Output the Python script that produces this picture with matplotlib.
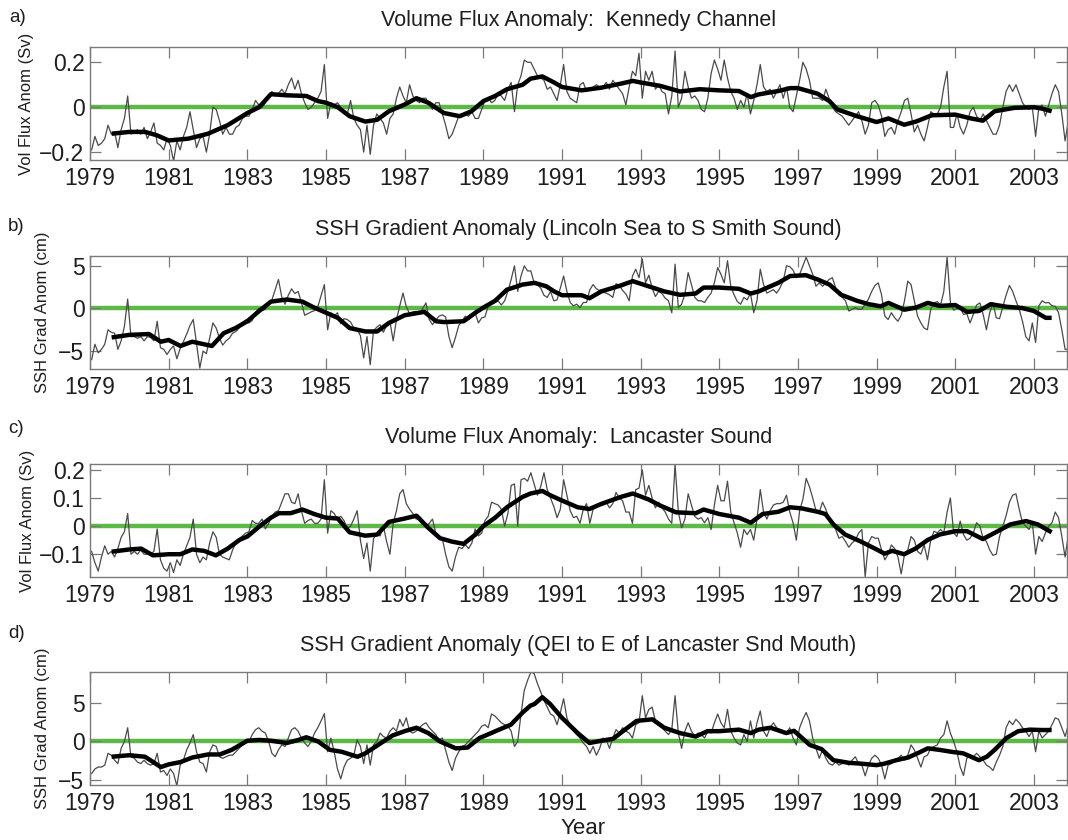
import numpy as np
import matplotlib
matplotlib.use('Agg')
import matplotlib.pyplot as plt

plt.rcParams['font.family'] = ['Liberation Sans', 'DejaVu Sans']

# ---- data (monthly anomalies, one row per year 1979..2003) ----
YEARS = list(range(1979, 2004))

kennedy_monthly = [
    [-0.19, -0.13, -0.17, -0.16, -0.14, -0.08, -0.12, -0.11, -0.18, -0.10, -0.05, 0.05],
    [-0.12, -0.11, -0.10, -0.12, -0.09, -0.14, -0.11, -0.07, -0.16, -0.17, -0.19, -0.14],
    [-0.17, -0.24, -0.15, -0.19, -0.13, -0.09, -0.02, -0.10, -0.18, -0.14, -0.13, -0.20],
    [-0.12, 0.00, -0.01, -0.06, -0.12, -0.09, -0.12, -0.12, -0.09, -0.08, -0.05, -0.04],
    [-0.04, -0.01, 0.03, 0.01, 0.00, 0.02, 0.05, 0.07, 0.05, 0.06, 0.08, 0.06],
    [0.10, 0.13, 0.08, 0.12, 0.06, 0.02, -0.01, 0.00, 0.02, 0.04, 0.07, 0.19],
    [-0.05, 0.02, 0.01, 0.02, 0.00, -0.02, -0.03, 0.03, -0.05, -0.08, -0.10, -0.20],
    [-0.08, -0.21, -0.08, -0.03, -0.05, -0.07, -0.12, -0.05, -0.03, 0.04, 0.09, 0.05],
    [0.02, 0.10, 0.05, 0.03, 0.02, 0.04, 0.04, 0.01, -0.01, 0.02, 0.02, -0.03],
    [-0.08, -0.14, -0.12, -0.08, -0.04, -0.03, -0.03, -0.04, -0.02, -0.05, -0.05, -0.01],
    [0.03, 0.04, 0.02, 0.03, 0.06, 0.05, 0.03, 0.08, 0.11, -0.02, 0.10, 0.14],
    [0.21, 0.20, 0.20, 0.17, 0.14, 0.13, 0.12, 0.08, 0.09, 0.06, 0.03, 0.10],
    [0.19, 0.07, 0.04, 0.03, 0.02, 0.10, 0.11, 0.07, 0.08, 0.09, 0.10, 0.09],
    [0.09, 0.11, 0.08, 0.12, 0.10, 0.08, 0.06, 0.01, 0.09, 0.16, 0.14, 0.24],
    [0.04, 0.16, 0.12, 0.16, 0.08, 0.10, 0.07, 0.06, -0.03, 0.05, 0.25, 0.00],
    [0.04, 0.16, 0.09, 0.04, 0.05, 0.03, -0.01, -0.02, 0.04, 0.15, 0.21, 0.17],
    [0.12, 0.21, 0.13, 0.07, 0.04, -0.01, 0.03, 0.00, 0.06, -0.03, 0.03, 0.10],
    [0.19, 0.09, 0.07, 0.08, 0.04, 0.07, 0.10, 0.04, 0.09, 0.00, -0.02, 0.05],
    [0.12, 0.20, 0.17, 0.12, 0.04, 0.04, 0.04, 0.03, 0.08, 0.04, 0.00, -0.02],
    [-0.03, -0.04, -0.06, -0.08, -0.06, -0.04, -0.02, -0.06, -0.12, -0.08, 0.02, 0.03],
    [0.01, -0.04, -0.13, -0.10, -0.09, -0.12, -0.06, -0.02, 0.03, 0.04, -0.03, -0.11],
    [-0.08, -0.12, -0.15, -0.09, -0.02, -0.03, -0.03, 0.00, 0.09, 0.16, -0.09, -0.09],
    [-0.03, -0.09, -0.12, -0.08, -0.02, 0.00, -0.04, -0.06, -0.03, -0.06, -0.09, -0.12],
    [-0.12, -0.08, 0.00, 0.07, 0.10, 0.07, 0.10, 0.06, 0.02, 0.00, -0.01, 0.00],
    [-0.13, 0.00, 0.01, -0.04, 0.01, 0.06, 0.10, 0.07, -0.03, -0.15, -0.06, -0.05],
]

lincoln_monthly = [
    [-6.0, -4.2, -5.2, -4.8, -4.2, -2.5, -2.8, -2.9, -4.8, -3.8, -2.1, 1.1],
    [-3.3, -3.3, -3.5, -3.3, -3.8, -3.3, -3.4, -3.8, -1.5, -4.6, -4.8, -5.4],
    [-4.8, -4.4, -5.9, -4.7, -3.9, -3.0, -2.0, -1.3, -4.1, -7.0, -5.0, -5.3],
    [-3.5, -1.7, -2.3, -3.5, -4.3, -3.8, -3.5, -2.9, -2.7, -2.3, -1.7, -1.35],
    [-1.7, -1.4, -0.5, 0.0, -0.25, -0.1, 0.45, 1.0, 2.2, 3.4, 1.35, 0.5],
    [1.55, 2.3, 1.75, 2.0, 0.7, -0.8, -0.6, -0.4, -0.25, 0.2, 1.5, 2.8],
    [-2.5, -0.5, -0.9, -0.5, -1.8, -1.2, -1.3, -1.6, -2.3, -2.4, -3.2, -5.8],
    [-3.3, -6.6, -2.6, -2.2, -1.9, -2.8, -2.0, -1.5, -3.8, -1.3, 0.3, 1.8],
    [0.2, -0.6, -0.4, -0.35, -0.6, 0.0, 0.65, -1.3, -1.9, -1.35, -0.9, -0.75],
    [-1.0, -3.3, -4.6, -3.4, -2.0, -1.5, -0.9, -1.3, -0.9, -0.5, -1.7, -1.1],
    [-1.0, 0.3, 0.65, 0.7, 0.9, 0.4, 0.9, 2.0, 3.4, 5.0, 2.0, 3.8],
    [5.0, 4.4, 4.4, 3.0, 2.8, 2.4, 1.55, 1.3, 2.0, 0.9, 1.0, 2.4],
    [3.8, 2.0, 0.7, 0.3, 0.5, 0.1, 0.7, 0.7, 2.2, 2.8, 2.3, 2.1],
    [1.9, 1.8, 1.6, 1.3, 2.9, 2.7, 2.1, 1.7, 0.9, 3.8, 4.6, 3.6],
    [5.8, 3.0, 3.9, 2.4, 1.4, 2.0, 1.75, 1.2, 0.9, -0.5, 5.2, 0.1],
    [0.5, 1.7, 4.2, 2.8, 1.3, 0.9, 0.9, 0.7, 1.3, 1.8, 3.0, 4.8],
    [4.0, 3.0, 5.6, 2.6, 1.6, 0.8, 0.5, 1.3, 1.0, 1.8, -0.5, 0.9],
    [4.6, 2.8, 1.8, 2.0, 2.2, 1.8, 2.4, 3.2, 5.0, 4.9, 4.5, 3.6],
    [4.0, 5.0, 6.0, 5.0, 4.0, 2.6, 3.0, 2.6, 3.0, 3.4, 3.6, 2.4],
    [1.6, 1.3, 0.9, -0.3, -0.1, 0.1, -0.1, -0.1, 0.5, 1.1, 2.0, 2.7],
    [3.0, 1.6, -0.9, -1.3, -0.5, -1.1, -1.5, -0.8, 0.9, 3.2, 2.8, 0.9],
    [-0.9, -1.7, -2.3, -2.5, -0.1, 0.65, 0.8, 0.4, 2.0, 6.0, 0.7, -0.2],
    [0.0, 0.1, -0.7, -0.6, -1.7, -0.7, 0.4, 0.65, -0.7, -2.5, -0.5, 0.65],
    [-1.1, -1.2, 0.2, 1.55, 2.7, 2.0, 0.9, -0.1, -1.5, -3.3, -3.8, -1.7],
    [-4.0, 0.3, 0.9, 0.65, 0.7, 0.3, 0.25, -0.5, -2.5, -4.8, -4.8, -2.0],
]

lancaster_monthly = [
    [-0.09, -0.13, -0.16, -0.11, -0.07, -0.10, -0.09, -0.11, -0.08, -0.04, -0.02, 0.045],
    [-0.10, -0.09, -0.10, -0.085, -0.10, -0.10, -0.10, -0.09, -0.01, -0.12, -0.15, -0.16],
    [-0.13, -0.165, -0.12, -0.14, -0.10, -0.07, -0.04, 0.025, -0.10, -0.13, -0.11, -0.12],
    [-0.06, -0.02, -0.04, -0.10, -0.11, -0.115, -0.12, -0.085, -0.06, -0.045, -0.035, -0.025],
    [-0.02, 0.02, 0.01, 0.01, 0.025, -0.01, 0.01, 0.035, 0.05, 0.055, 0.085, 0.115],
    [0.115, 0.085, 0.08, 0.115, 0.055, 0.01, 0.02, 0.025, 0.01, 0.01, 0.025, 0.165],
    [-0.025, 0.055, 0.045, 0.025, 0.035, 0.02, -0.01, 0.0, 0.025, 0.055, -0.05, -0.115],
    [-0.06, -0.16, -0.045, -0.025, -0.035, 0.0, -0.055, -0.10, 0.01, 0.055, 0.115, 0.13],
    [0.08, 0.06, 0.045, 0.025, 0.035, 0.02, 0.0, 0.01, 0.025, -0.025, -0.035, -0.045],
    [-0.10, -0.145, -0.16, -0.11, -0.075, -0.08, -0.065, -0.08, -0.06, -0.01, -0.035, -0.025],
    [0.02, 0.035, 0.085, 0.08, 0.075, 0.06, 0.0, 0.045, 0.145, 0.15, 0.0, 0.165],
    [0.17, 0.16, 0.19, 0.15, 0.11, 0.14, 0.19, 0.13, 0.10, 0.07, 0.03, 0.06],
    [0.165, 0.11, 0.055, 0.03, 0.035, 0.01, 0.06, 0.08, 0.01, 0.06, 0.075, 0.08],
    [0.075, 0.085, 0.065, 0.08, 0.12, 0.10, 0.09, 0.05, 0.05, 0.01, 0.13, 0.135],
    [0.20, 0.11, 0.145, 0.10, 0.065, 0.085, 0.065, 0.05, 0.025, 0.01, 0.22, 0.05],
    [-0.006, 0.025, 0.115, 0.075, 0.035, 0.025, 0.03, 0.012, 0.03, -0.012, 0.075, 0.145],
    [0.09, 0.09, 0.16, 0.05, 0.012, -0.025, -0.075, -0.012, -0.03, -0.012, -0.05, 0.025],
    [0.13, 0.05, 0.025, 0.055, 0.075, 0.08, 0.08, 0.085, 0.11, 0.05, 0.012, -0.05],
    [0.055, 0.095, 0.17, 0.14, 0.10, 0.055, 0.05, 0.085, 0.06, 0.025, 0.012, -0.012],
    [-0.043, -0.037, -0.055, -0.075, -0.06, -0.05, -0.025, -0.012, -0.18, -0.06, -0.037, -0.043],
    [-0.043, -0.085, -0.12, -0.10, -0.067, -0.08, -0.11, -0.17, -0.10, -0.085, -0.037, -0.05],
    [-0.09, -0.10, -0.067, -0.12, -0.05, -0.018, -0.024, -0.012, -0.024, 0.05, 0.10, -0.024],
    [-0.037, 0.018, -0.03, -0.05, -0.043, -0.024, 0.012, 0.0, -0.043, -0.055, -0.085, -0.104],
    [-0.10, -0.037, 0.0, 0.037, 0.085, 0.11, 0.115, 0.06, 0.012, 0.0, -0.012, 0.012],
    [-0.10, -0.037, -0.055, -0.024, 0.0, 0.012, 0.05, 0.03, -0.037, -0.11, -0.03, 0.0],
]

qei_monthly = [
    [-4.2, -3.6, -3.35, -3.35, -3.1, -1.55, -1.8, -2.45, -2.9, -0.9, 0.0, 1.8],
    [-2.0, -2.2, -2.7, -2.9, -2.45, -2.9, -3.1, -2.9, -1.55, -4.0, -3.8, -4.45],
    [-3.6, -4.2, -5.8, -3.1, -2.45, -1.1, -0.2, 0.9, -1.35, -2.7, -2.9, -4.0],
    [-1.35, -0.45, -0.65, -2.0, -2.2, -2.0, -1.8, -1.8, -1.35, -0.9, -0.45, 0.2],
    [0.0, 0.9, 1.55, 1.8, 1.35, 1.1, 0.0, -1.55, -2.0, -1.1, -0.45, -0.65],
    [0.45, 1.55, 1.8, 1.35, 0.45, -0.2, -0.65, 0.0, 1.1, 1.8, 2.7, 3.65],
    [-1.35, 0.45, -1.35, -3.6, -4.9, -3.35, -2.45, -2.2, -1.8, 0.2, -0.65, -2.9],
    [-0.45, -3.1, -0.45, 0.0, 1.1, 0.65, 0.45, 1.35, 1.8, 1.35, 2.9, 2.0],
    [3.1, 1.35, 1.1, 1.35, 1.8, 2.2, 2.45, 1.8, 1.35, 0.9, 0.2, 0.45],
    [-1.1, -2.7, -3.8, -2.2, -1.35, -0.65, -0.45, 0.0, 0.45, 0.9, 1.35, 2.0],
    [2.2, 1.8, 3.6, 3.35, 2.9, 2.45, 2.2, 2.0, 1.35, -0.65, 0.0, 3.6],
    [6.7, 8.0, 9.1, 8.9, 7.6, 6.5, 5.4, 4.5, 3.6, 3.35, 2.2, 3.8],
    [5.6, 3.1, 2.0, 1.35, 0.9, 0.45, -0.2, -0.65, -1.55, -0.65, -1.8, -0.9],
    [0.45, 0.2, -0.9, 0.45, 1.55, 1.1, 1.8, 1.35, 1.1, 0.45, 2.2, 2.45],
    [6.0, 3.1, 4.2, 4.5, 2.7, 2.2, 1.8, 1.35, 0.9, 1.55, 6.0, 1.1],
    [-0.9, 1.35, 2.45, 1.35, 0.65, 1.1, 0.9, 0.45, 1.35, 1.1, 2.45, 3.6],
    [2.45, 1.8, 4.2, 1.35, 0.45, -0.2, -0.45, 0.9, 0.0, 2.7, 0.45, 2.45],
    [4.0, 1.35, 0.65, 1.8, 2.45, 1.8, 1.55, 1.35, 1.1, 1.8, 0.45, -0.45],
    [1.8, 2.9, 3.8, 2.7, 0.45, -0.9, -2.2, -1.1, -2.2, -2.9, -3.1, -2.7],
    [-3.1, -2.9, -2.7, -3.1, -2.45, -2.0, -2.9, -3.1, -4.5, -3.1, -2.2, -1.8],
    [-2.2, -3.1, -4.9, -3.1, -2.9, -2.45, -2.2, -1.8, -2.45, -1.8, -0.45, -1.1],
    [-2.2, -3.35, -2.0, -1.8, -0.9, -0.65, -0.45, 0.45, 0.9, 2.7, 1.1, 0.0],
    [-1.35, -3.35, -4.45, -2.2, -1.8, -2.0, -1.55, -2.0, -2.45, -3.1, -3.35, -3.8],
    [-2.7, -1.8, -0.65, 1.8, 2.7, 2.2, 2.9, 2.45, 1.8, 1.35, 0.65, 1.35],
    [-1.35, 1.35, 0.45, 0.9, 1.35, 2.2, 3.1, 2.9, 1.8, 0.65, 2.2, 1.55],
]

# ---- smoothed (running mean) curves, read as (year, value) ----
kennedy_smooth_t = [1979.55, 1980.0, 1980.4, 1980.7, 1981.0, 1981.5, 1982.0, 1982.5, 1983.0, 1983.3,
                    1983.6, 1984.0, 1984.5, 1984.8, 1985.0, 1985.3, 1985.6, 1986.0, 1986.3, 1986.6,
                    1987.0, 1987.3, 1987.6, 1988.0, 1988.4, 1988.7, 1989.0, 1989.3, 1989.6, 1990.0,
                    1990.2, 1990.5, 1990.8, 1991.0, 1991.5, 1992.0, 1992.5, 1992.8, 1993.0, 1993.5,
                    1994.0, 1994.5, 1995.0, 1995.5, 1995.8, 1996.0, 1996.5, 1996.8, 1997.0, 1997.5,
                    1997.8, 1998.0, 1998.5, 1999.0, 1999.3, 1999.7, 2000.0, 2000.4, 2001.0, 2001.4,
                    2001.7, 2002.0, 2002.5, 2003.0, 2003.2, 2003.45]
kennedy_smooth_v = [-0.118, -0.11, -0.11, -0.125, -0.148, -0.14, -0.118, -0.08, -0.026, 0.0,
                    0.058, 0.053, 0.05, 0.027, 0.02, 0.0, -0.04, -0.064, -0.056, -0.018,
                    0.012, 0.04, 0.02, -0.026, -0.04, -0.018, 0.027, 0.05, 0.08, 0.10,
                    0.127, 0.137, 0.11, 0.09, 0.075, 0.087, 0.105, 0.117, 0.11, 0.095,
                    0.07, 0.08, 0.075, 0.072, 0.045, 0.057, 0.072, 0.085, 0.085, 0.06,
                    0.027, -0.01, -0.04, -0.066, -0.05, -0.078, -0.064, -0.036, -0.033, -0.05,
                    -0.06, -0.018, -0.003, 0.0, -0.006, -0.018]

lincoln_smooth_t = [1979.55, 1980.0, 1980.5, 1980.8, 1981.0, 1981.3, 1981.6, 1981.9, 1982.1, 1982.4,
                    1982.7, 1983.0, 1983.3, 1983.6, 1984.0, 1984.4, 1984.7, 1985.0, 1985.3, 1985.6,
                    1986.0, 1986.3, 1986.6, 1987.0, 1987.5, 1987.8, 1988.0, 1988.5, 1988.8, 1989.0,
                    1989.3, 1989.6, 1990.0, 1990.3, 1990.6, 1990.8, 1991.0, 1991.5, 1991.7, 1992.0,
                    1992.5, 1992.8, 1993.2, 1993.6, 1994.0, 1994.4, 1994.6, 1995.0, 1995.5, 1995.8,
                    1996.0, 1996.5, 1996.8, 1997.2, 1997.5, 1997.8, 1998.1, 1998.5, 1998.8, 1999.1,
                    1999.3, 1999.7, 2000.0, 2000.3, 2000.6, 2001.0, 2001.3, 2001.6, 2001.9, 2002.3,
                    2002.7, 2003.0, 2003.3, 2003.45]
lincoln_smooth_v = [-3.4, -3.1, -3.0, -3.9, -3.7, -4.4, -3.9, -4.2, -4.4, -2.9,
                    -2.3, -1.5, -0.3, 0.8, 1.05, 0.8, 0.1, -0.5, -1.1, -2.3,
                    -2.7, -2.7, -1.7, -0.8, -0.4, -1.5, -1.6, -1.5, -0.5, 0.1,
                    0.9, 2.2, 2.8, 3.0, 2.6, 2.0, 1.55, 1.55, 1.2, 2.0,
                    2.7, 3.2, 2.6, 2.0, 1.6, 1.75, 2.45, 2.45, 2.3, 1.75,
                    2.0, 3.0, 3.8, 3.9, 3.4, 2.8, 1.6, 0.9, 0.5, 0.25,
                    0.65, -0.15, 0.1, 0.65, 0.3, 0.4, -0.4, -0.3, 0.5, 0.2,
                    0.05, -0.3, -1.1, -1.1]

lancaster_smooth_t = [1979.55, 1980.0, 1980.3, 1980.6, 1981.0, 1981.3, 1981.6, 1981.9, 1982.2, 1982.5,
                      1982.8, 1983.0, 1983.3, 1983.6, 1983.8, 1984.1, 1984.4, 1984.7, 1985.0, 1985.3,
                      1985.6, 1986.0, 1986.3, 1986.6, 1987.0, 1987.3, 1987.6, 1987.9, 1988.2, 1988.5,
                      1988.8, 1989.0, 1989.3, 1989.6, 1990.0, 1990.2, 1990.5, 1990.7, 1991.0, 1991.4,
                      1991.7, 1992.0, 1992.5, 1992.8, 1993.2, 1993.5, 1993.9, 1994.4, 1994.6, 1995.0,
                      1995.5, 1995.8, 1996.1, 1996.5, 1996.8, 1997.1, 1997.5, 1997.7, 1997.9, 1998.2,
                      1998.6, 1999.0, 1999.2, 1999.4, 1999.7, 2000.0, 2000.3, 2000.6, 2001.0, 2001.3,
                      2001.7, 2002.0, 2002.4, 2002.8, 2003.1, 2003.45]
lancaster_smooth_v = [-0.091, -0.083, -0.08, -0.104, -0.10, -0.10, -0.083, -0.088, -0.104, -0.08,
                      -0.049, -0.037, -0.002, 0.03, 0.046, 0.046, 0.059, 0.043, 0.03, 0.027,
                      -0.022, -0.034, -0.03, 0.015, 0.027, 0.037, -0.006, -0.043, -0.055, -0.063,
                      -0.03, 0.0, 0.03, 0.067, 0.104, 0.116, 0.125, 0.11, 0.091, 0.067,
                      0.061, 0.079, 0.104, 0.116, 0.095, 0.073, 0.049, 0.046, 0.059, 0.043,
                      0.03, 0.012, 0.043, 0.051, 0.067, 0.063, 0.051, 0.043, 0.006, -0.03,
                      -0.055, -0.083, -0.098, -0.088, -0.10, -0.079, -0.049, -0.03, -0.018, -0.018,
                      -0.046, -0.024, 0.006, 0.018, 0.006, -0.022]

qei_smooth_t = [1979.55, 1980.0, 1980.4, 1980.8, 1981.0, 1981.3, 1981.6, 1982.0, 1982.3, 1982.6,
                1983.0, 1983.3, 1983.6, 1984.0, 1984.3, 1984.5, 1984.8, 1985.1, 1985.4, 1985.8,
                1986.0, 1986.4, 1986.7, 1987.0, 1987.3, 1987.6, 1987.9, 1988.3, 1988.6, 1988.9,
                1989.2, 1989.4, 1989.7, 1990.0, 1990.2, 1990.3, 1990.5, 1990.7, 1991.0, 1991.4,
                1991.7, 1992.0, 1992.3, 1992.6, 1992.9, 1993.3, 1993.6, 1994.0, 1994.4, 1994.7,
                1995.0, 1995.5, 1995.8, 1996.0, 1996.3, 1996.7, 1996.9, 1997.3, 1997.6, 1997.9,
                1998.3, 1998.6, 1999.0, 1999.2, 1999.5, 1999.8, 2000.1, 2000.3, 2000.6, 2000.9,
                2001.2, 2001.6, 2001.8, 2002.0, 2002.3, 2002.6, 2002.9, 2003.2, 2003.45]
qei_smooth_v = [-2.0, -1.8, -2.0, -3.35, -3.0, -2.7, -2.1, -1.7, -1.7, -1.1,
                0.1, 0.2, 0.1, -0.2, 0.2, 0.55, 0.0, -1.1, -1.35, -2.0,
                -1.55, -0.2, 0.8, 1.35, 1.8, 1.1, 0.0, -0.9, -0.8, 0.45,
                1.1, 1.55, 2.2, 3.8, 4.7, 4.9, 5.8, 4.9, 3.1, 1.1,
                -0.2, 0.1, 0.35, 1.55, 2.7, 2.9, 1.8, 1.1, 0.65, 1.35,
                1.35, 1.55, 1.1, 1.55, 1.8, 1.1, 1.4, -0.45, -1.0, -2.45,
                -2.8, -2.9, -3.1, -2.9, -2.45, -2.1, -1.4, -0.9, -1.1, -1.35,
                -1.55, -2.45, -2.0, -1.1, 0.45, 1.35, 1.55, 1.5, 1.5]

TITLES = ['Volume Flux Anomaly:  Kennedy Channel',
          'SSH Gradient Anomaly (Lincoln Sea to S Smith Sound)',
          'Volume Flux Anomaly:  Lancaster Sound',
          'SSH Gradient Anomaly (QEI to E of Lancaster Snd Mouth)']
YLABELS = ['Vol Flux Anom (Sv)', 'SSH Grad Anom (cm)', 'Vol Flux Anom (Sv)', 'SSH Grad Anom (cm)']
PANEL_TAGS = ['a)', 'b)', 'c)', 'd)']
YTICKS = [[-0.2, 0, 0.2], [-5, 0, 5], [-0.1, 0, 0.1, 0.2], [-5, 0, 5]]
YTICKLABELS = [['\u22120.2', '0', '0.2'], ['\u22125', '0', '5'],
               ['\u22120.1', '0', '0.1', '0.2'], ['\u22125', '0', '5']]
YLIMS = [(-0.235, 0.268), (-7.1, 6.15), (-0.181, 0.221), (-5.7, 9.1)]
XTICKS = list(range(1979, 2004, 2))

FIG_W, FIG_H = 1068, 840
AX_LEFT, AX_RIGHT = 90, 1067
AX_TOPS = [47, 256, 464, 672]
AX_H = 113
TAG_Y = [17, 227, 429, 633]
TAG_X = [18, 16, 16, 17]
YLAB_X = [27, 43, 28, 43]

GRAY = '#7a7a7a'
GREEN = '#5cb946'
TEXT = '#1e1e1e'


def monthly_series(rows):
    t = np.array([y + (m + 0.5) / 12.0 for y in YEARS for m in range(12)])
    v = np.array(rows, dtype=float).ravel()
    return t, v


def draw_panel(fig, i, rows, st, sv):
    top = AX_TOPS[i]
    ax = fig.add_axes([AX_LEFT / FIG_W, 1 - (top + AX_H) / FIG_H,
                       (AX_RIGHT - AX_LEFT) / FIG_W, AX_H / FIG_H])
    t, v = monthly_series(rows)
    ax.axhline(0, color=GREEN, lw=3.2, zorder=1)
    ax.plot(t, v, color='#4a4a4a', lw=0.9, zorder=2)
    ax.plot(st, sv, color='black', lw=3.2, zorder=3, solid_capstyle='butt')

    ax.set_xlim(1979, 2003.84)
    ax.set_ylim(*YLIMS[i])
    ax.set_xticks(XTICKS)
    ax.set_xticklabels([str(x) for x in XTICKS])
    ax.set_yticks(YTICKS[i])
    ax.set_yticklabels(YTICKLABELS[i])
    ax.tick_params(direction='in', top=True, right=True, length=8, width=0.9,
                   color=GRAY, labelsize=16.5, labelcolor=TEXT)
    ax.tick_params(axis='x', pad=5)
    ax.tick_params(axis='y', pad=4)
    for sp in ax.spines.values():
        sp.set_color(GRAY)
        sp.set_linewidth(1.0)

    ax.set_title(TITLES[i], fontsize=15.5, color=TEXT, pad=15)
    fig.text(TAG_X[i] / FIG_W, 1 - TAG_Y[i] / FIG_H, PANEL_TAGS[i],
             fontsize=13.5, color=TEXT, ha='center', va='center')
    fig.text(YLAB_X[i] / FIG_W, 1 - (top + AX_H / 2) / FIG_H, YLABELS[i],
             fontsize=12, color=TEXT, rotation=90, ha='center', va='center')
    return ax


fig = plt.figure(figsize=(FIG_W / 100, FIG_H / 100), dpi=100)
series = [
    (kennedy_monthly, kennedy_smooth_t, kennedy_smooth_v),
    (lincoln_monthly, lincoln_smooth_t, lincoln_smooth_v),
    (lancaster_monthly, lancaster_smooth_t, lancaster_smooth_v),
    (qei_monthly, qei_smooth_t, qei_smooth_v),
]
for i, (rows, st, sv) in enumerate(series):
    draw_panel(fig, i, rows, st, sv)

fig.text(583 / FIG_W, 1 - 828 / FIG_H, 'Year', fontsize=16, color=TEXT,
         ha='center', va='center')

fig.savefig('out.png', dpi=100)
plt.close()
